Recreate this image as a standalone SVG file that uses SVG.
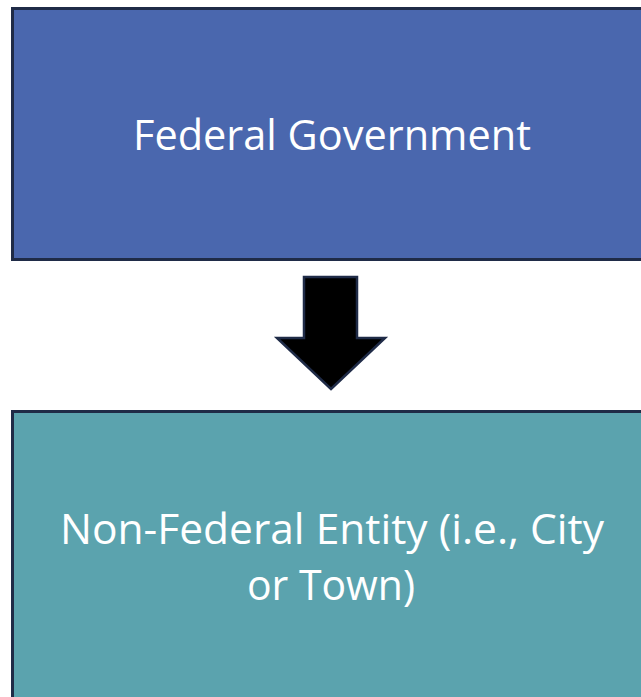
<svg xmlns="http://www.w3.org/2000/svg" width="641" height="697" viewBox="0 0 641 697">
<style>
.box{stroke:#1f2b47;stroke-width:3}
.lbl{font-family:"Open Sans","Liberation Sans",sans-serif;font-size:42px;fill:#ffffff;text-anchor:middle}
</style>
<rect width="641" height="697" fill="#ffffff"/>
<g id="federal-government">
<rect class="box" x="12.5" y="8.5" width="640" height="251" fill="#4a67ae"/>
<text class="lbl" x="332" y="150" textLength="398" lengthAdjust="spacingAndGlyphs">Federal Government</text>
</g>
<g id="connectors">
<path d="M304,277 L357,277 L357,338 L385,338 L331,389 L277,338 L304,338 Z" fill="#000000" stroke="#1f2b47" stroke-width="2.5" stroke-linejoin="miter"/>
</g>
<g id="non-federal-entity">
<rect class="box" x="12.5" y="411.5" width="640" height="300" fill="#5ba3ae"/>
<text class="lbl" x="332" y="544" textLength="544" lengthAdjust="spacingAndGlyphs">Non-Federal Entity (i.e., City</text>
<text class="lbl" x="331" y="600" textLength="168" lengthAdjust="spacingAndGlyphs">or Town)</text>
</g>
</svg>
